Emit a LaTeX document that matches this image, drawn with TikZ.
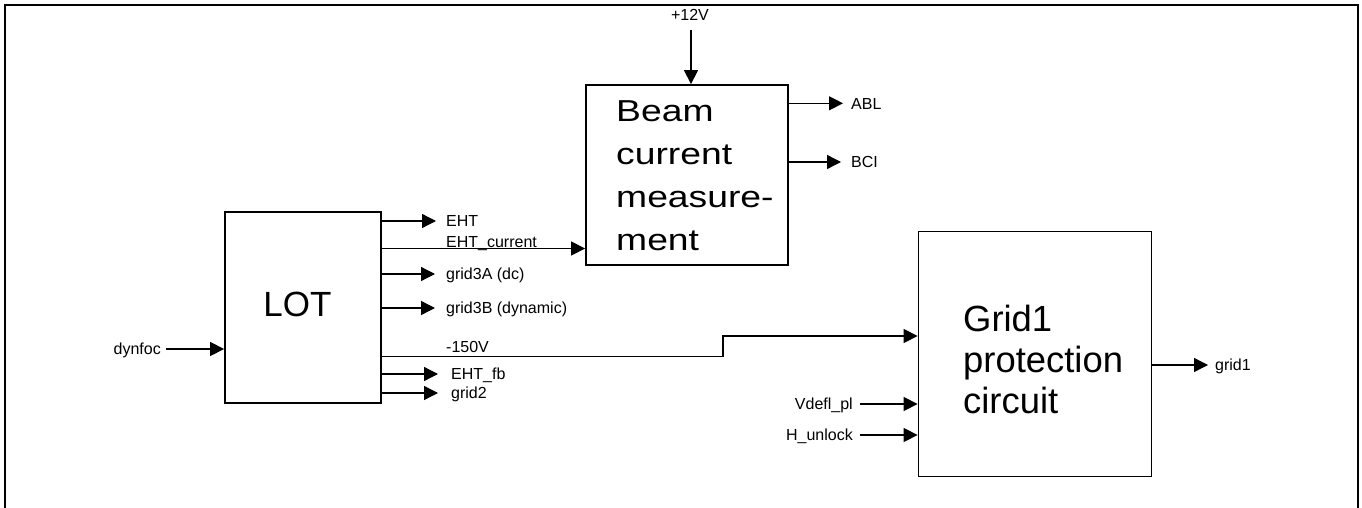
\documentclass[tikz,border=0pt]{standalone}
\usepackage{fontspec}
\setmainfont{Liberation Sans}
\newfontfamily\widefont[FakeStretch=1.23]{Liberation Sans}
\usetikzlibrary{arrows.meta,positioning,calc}

\begin{document}
\begin{tikzpicture}[x=1pt,y=-1pt,>={Triangle[length=14pt,width=14pt]}, block/.style={draw,line width=1.8pt,inner sep=0pt}, arc/.style={->,line width=1.3pt}, lbl/.style={font=\fontsize{16}{19}\selectfont,inner sep=0pt,text height=11.5pt,text depth=0pt}, big/.style={align=left,inner sep=0pt}]
\useasboundingbox (0,0) rectangle (1362,508);
\draw[line width=1.5pt] (5,508) -- (5,5) -- (1358,5) -- (1358,508);
% blocks
\node[block,minimum width=156pt,minimum height=191pt] (lot) at (303,307.5) {};
\node[block,minimum width=202pt,minimum height=180pt] (bcm) at (687,175) {};
\node[block,minimum width=233pt,minimum height=245pt] (grid) at (1035,354) {};
\node[big,font=\fontsize{35}{43}\selectfont] (lottxt) at (297.5,304) {LOT};
\node[big,font=\widefont\fontsize{30.3}{43}\selectfont,anchor=north west] (bcmtxt) at (616,100) {Beam\\current\\measure-\\ment};
\node[big,font=\fontsize{36.4}{41}\selectfont,anchor=north west] (gridtxt) at (963,305) {Grid1\\protection\\circuit};
% free ends
\coordinate (v12) at (691,30);
\coordinate (abl) at (843,103.3);
\coordinate (bci) at (841,162);
\coordinate (eht) at (436,221);
\coordinate (ehtc) at (0,248.5);
\coordinate (g3a) at (435,274);
\coordinate (g3b) at (435,308);
\coordinate (neg) at (0,356.7);
\coordinate (kink) at (723,336);
\coordinate (fb) at (438,374);
\coordinate (g2) at (438,393);
\coordinate (dyn) at (166,349);
\coordinate (vdef) at (860,404);
\coordinate (hun) at (860,435);
\coordinate (g1) at (1208,365);
% labels
\node[lbl] (v12txt) at (690,15) {+12V};
\node[lbl,anchor=west] (abltxt) at (851,103.3) {ABL};
\node[lbl,anchor=west] (bcitxt) at (851,162) {BCI};
\node[lbl,anchor=west] (ehttxt) at (446,221) {EHT};
\node[lbl,anchor=west] (ehtctxt) at (446,241.5) {EHT\_current};
\node[lbl,anchor=west] (g3atxt) at (446,274) {grid3A (dc)};
\node[lbl,anchor=west] (g3btxt) at (446,308) {grid3B (dynamic)};
\node[lbl,anchor=west] (negtxt) at (446,346.7) {-150V};
\node[lbl,anchor=west] (fbtxt) at (451,374) {EHT\_fb};
\node[lbl,anchor=west] (g2txt) at (451,393) {grid2};
\node[lbl,anchor=east] (dyntxt) at (161,349) {dynfoc};
\node[lbl,anchor=east] (vdeftxt) at (853,404) {Vdefl\_pl};
\node[lbl,anchor=east] (huntxt) at (853,435) {H\_unlock};
\node[lbl,anchor=west] (g1txt) at (1215,365) {grid1};
% connectors
\draw[arc] (v12) -- (v12 |- bcm.north);
\draw[arc] (bcm.east |- abl) -- (abl);
\draw[arc] (bcm.east |- bci) -- (bci);
\draw[arc] (lot.east |- eht) -- (eht);
\draw[arc] (lot.east |- ehtc) -- (bcm.west |- ehtc);
\draw[arc] (lot.east |- g3a) -- (g3a);
\draw[arc] (lot.east |- g3b) -- (g3b);
\draw[arc] (lot.east |- neg) -| (kink) -- (grid.west |- kink);
\draw[arc] (lot.east |- fb) -- (fb);
\draw[arc] (lot.east |- g2) -- (g2);
\draw[arc] (dyn) -- (lot.west |- dyn);
\draw[arc] (vdef) -- (grid.west |- vdef);
\draw[arc] (hun) -- (grid.west |- hun);
\draw[arc] (grid.east |- g1) -- (g1);
\end{tikzpicture}
\end{document}
